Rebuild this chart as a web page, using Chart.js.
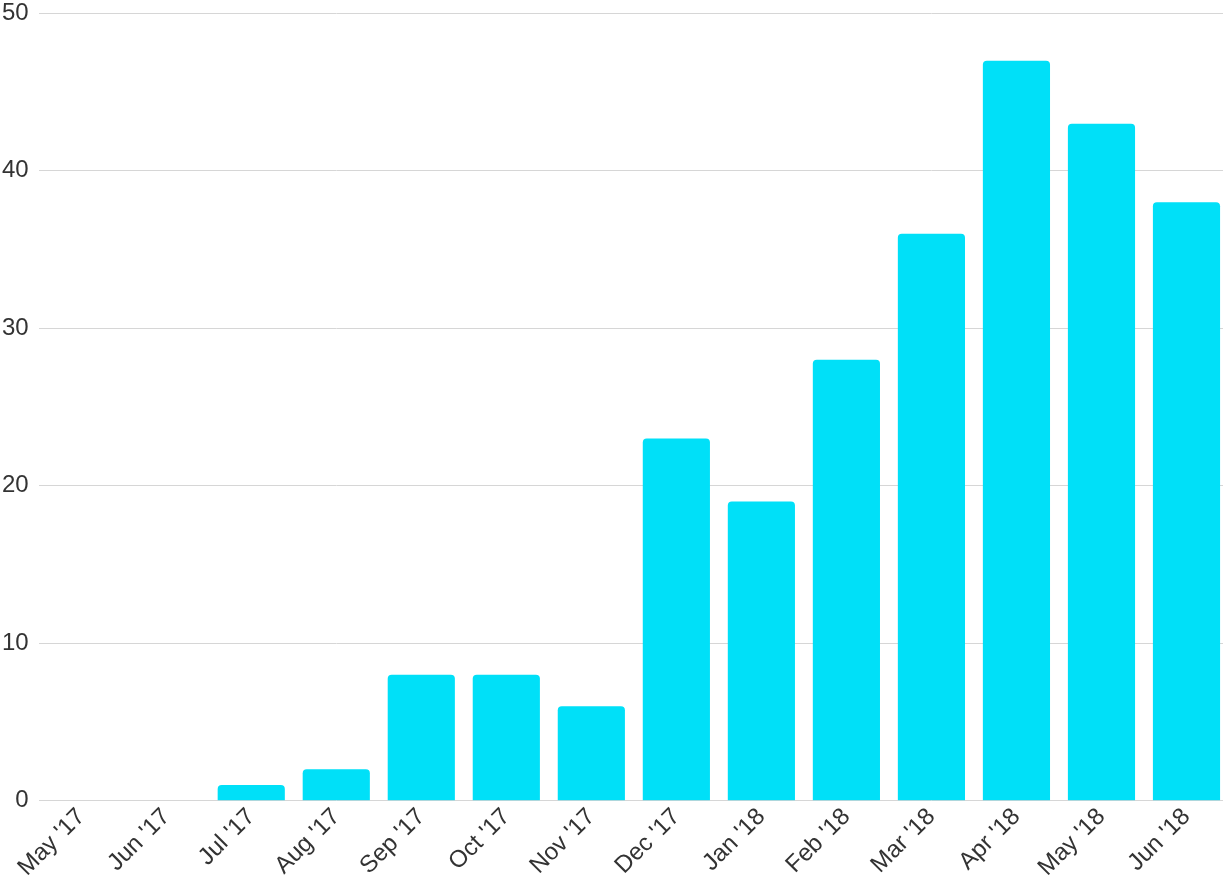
<!DOCTYPE html>
<html>
<head>
<meta charset="utf-8">
<script src="https://cdn.jsdelivr.net/npm/chart.js@4"></script>
<style>
  html, body { margin: 0; padding: 0; background: #fff; overflow: hidden; }
  #wrap { width: 1239px; height: 895px; margin-top: -11px; margin-left: -8px; }
</style>
</head>
<body>
<div id="wrap"><canvas id="chart"></canvas></div>
<script>
const months = ["May '17", "Jun '17", "Jul '17", "Aug '17", "Sep '17", "Oct '17", "Nov '17",
                "Dec '17", "Jan '18", "Feb '18", "Mar '18", "Apr '18", "May '18", "Jun '18"];
const counts = [0, 0, 1, 2, 8, 8, 6, 23, 19, 28, 36, 47, 43, 38];
const yTicks = [0, 10, 20, 30, 40, 50];

function renderMonthlyChart(canvasId) {
    const ctx = document.getElementById(canvasId).getContext('2d');
    new Chart(ctx, {
        type: 'bar',
        data: {
            labels: months,
            datasets: [{
                data: counts,
                backgroundColor: '#00e0f8',
                borderRadius: { topLeft: 4, topRight: 4 },
                borderSkipped: 'bottom',
                categoryPercentage: 1.0,
                barPercentage: 0.79,
            }]
        },
        options: {
            responsive: true,
            maintainAspectRatio: false,
            animation: false,
            layout: { padding: { top: 0, right: 2, left: 0, bottom: 0 } },
            plugins: { legend: { display: false }, tooltip: { enabled: false } },
            scales: {
                x: {
                    grid: { display: false, drawTicks: false },
                    border: { display: false },
                    ticks: {
                        minRotation: 45,
                        maxRotation: 45,
                        autoSkip: false,
                        padding: 2,
                        color: '#333',
                        font: { family: 'Liberation Sans', size: 24 }
                    }
                },
                y: {
                    min: 0,
                    max: 50,
                    afterBuildTicks: axis => { axis.ticks = yTicks.map(v => ({ value: v })); },
                    grid: { color: '#d6d6d6', lineWidth: 1, drawTicks: false },
                    border: { display: false },
                    ticks: {
                        padding: 10,
                        color: '#333',
                        font: { family: 'Liberation Sans', size: 24 }
                    }
                }
            }
        }
    });
}

renderMonthlyChart('chart');
</script>
</body>
</html>
